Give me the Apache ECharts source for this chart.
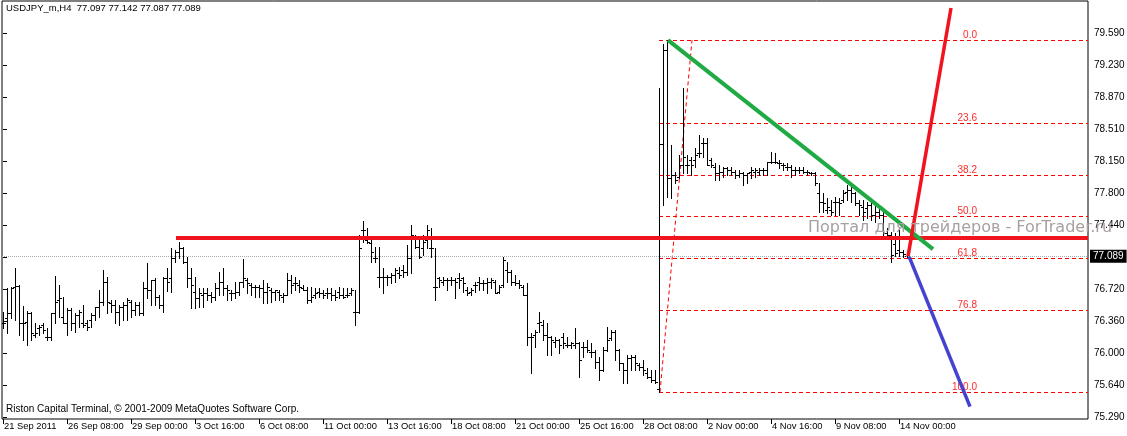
<!DOCTYPE html>
<html><head><meta charset="utf-8">
<script src="https://cdn.jsdelivr.net/npm/echarts@6/dist/echarts.min.js"></script>
<style>html,body{margin:0;padding:0;background:#fff}#c{width:1127px;height:436px}</style>
</head><body><div id="c"></div>
<script>
// ---- DATA (H4 bars, index = bar number) ----
const opens=[76.338,76.394,76.450,76.748,76.760,76.338,76.356,76.450,76.207,76.282,
76.319,76.188,76.188,76.450,76.599,76.412,76.338,76.487,76.338,76.431,
76.338,76.338,76.375,76.431,76.524,76.580,76.804,76.562,76.543,76.468,
76.524,76.543,76.580,76.487,76.543,76.450,76.730,76.711,76.823,76.636,
76.543,76.842,76.842,77.066,77.140,77.178,77.028,76.842,76.692,76.618,
76.655,76.674,76.655,76.636,76.730,76.804,76.730,76.674,76.674,76.692,
76.804,76.823,76.767,76.748,76.748,76.730,76.692,76.711,76.692,76.692,
76.636,76.655,76.823,76.786,76.767,76.730,76.711,76.599,76.655,76.692,
76.674,76.674,76.674,76.655,76.692,76.655,76.655,76.674,76.468,76.468,
77.383,77.271,77.234,77.066,76.860,76.860,76.860,76.860,76.879,76.898,
76.935,76.916,77.066,77.308,77.196,77.178,77.271,77.178,76.748,76.842,
76.804,76.823,76.823,76.823,76.842,76.842,76.711,76.692,76.767,76.804,
76.786,76.786,76.804,76.804,76.692,76.767,76.935,76.916,76.804,76.786,
76.748,76.655,76.188,76.207,76.338,76.319,76.207,76.188,76.132,76.151,
76.188,76.095,76.095,76.095,76.114,76.076,76.076,76.020,76.020,75.909,
75.815,76.039,76.170,76.244,76.039,75.890,75.815,75.946,75.965,75.871,
75.852,75.778,75.741,75.703,75.600,78.346,79.399,77.962,77.999,77.980,
78.111,78.111,78.167,78.167,78.242,78.354,78.354,78.167,78.092,78.018,
78.036,78.074,78.055,78.036,77.999,78.018,77.999,78.036,78.036,78.036,
78.055,78.055,78.149,78.149,78.130,78.111,78.092,78.092,78.055,78.055,
78.055,78.036,78.018,78.018,77.794,77.701,77.607,77.607,77.701,77.701,
77.719,77.812,77.831,77.794,77.682,77.645,77.629,77.663,77.551,77.585,
77.551,77.349,77.327,77.226,77.159,77.137,77.097];
const highs=[76.468,76.730,76.748,76.954,76.767,76.532,76.480,76.468,76.338,76.319,
76.338,76.282,76.450,76.868,76.767,76.636,76.506,76.506,76.450,76.487,
76.543,76.375,76.450,76.524,76.711,76.935,76.860,76.599,76.599,76.543,
76.580,76.618,76.599,76.580,76.580,76.804,77.017,76.823,76.842,76.655,
76.860,76.954,77.178,77.159,77.252,77.196,77.084,76.954,76.860,76.730,
76.730,76.730,76.692,76.786,76.916,76.954,76.767,76.711,76.804,76.804,
77.055,76.842,76.786,76.767,76.767,76.823,76.786,76.730,76.711,76.711,
76.674,76.898,76.879,76.860,76.823,76.767,76.748,76.748,76.730,76.730,
76.711,76.730,76.730,76.711,76.741,76.730,76.730,76.730,76.711,77.327,
77.484,77.402,77.290,77.196,77.196,76.954,76.879,76.898,76.954,76.972,
76.991,77.215,77.439,77.327,77.308,77.327,77.439,77.402,77.178,76.860,
76.860,76.842,76.860,76.842,76.898,76.860,76.748,76.730,76.804,76.860,
76.823,76.842,76.842,76.823,76.767,77.084,77.028,76.935,76.879,76.823,
76.767,76.786,76.226,76.263,76.468,76.375,76.338,76.200,76.188,76.160,
76.226,76.188,76.125,76.282,76.125,76.132,76.151,76.114,76.039,75.965,
76.076,76.300,76.263,76.260,76.050,75.900,75.983,75.983,75.983,75.890,
75.927,75.834,75.815,75.815,78.970,79.470,79.511,78.335,78.036,78.223,
78.970,78.223,78.205,78.298,78.447,78.410,78.410,78.186,78.130,78.111,
78.092,78.092,78.092,78.055,78.055,78.036,78.018,78.092,78.074,78.074,
78.074,78.149,78.260,78.242,78.167,78.130,78.130,78.111,78.092,78.092,
78.092,78.055,78.036,78.030,77.906,77.794,77.738,77.719,77.757,77.738,
77.831,77.887,77.869,77.810,77.719,77.719,77.697,77.719,77.663,77.652,
77.607,77.405,77.361,77.349,77.405,77.159,77.142];
const lows=[76.282,76.226,76.394,76.375,76.207,76.151,76.095,76.151,76.188,76.207,
76.226,76.151,76.151,76.338,76.412,76.338,76.207,76.263,76.244,76.300,
76.300,76.263,76.300,76.375,76.412,76.543,76.450,76.468,76.338,76.319,
76.375,76.375,76.412,76.431,76.431,76.431,76.618,76.543,76.543,76.506,
76.468,76.700,76.692,77.028,77.066,77.010,76.748,76.506,76.506,76.524,
76.524,76.599,76.580,76.599,76.655,76.655,76.599,76.599,76.618,76.655,
76.748,76.674,76.655,76.636,76.636,76.562,76.562,76.580,76.599,76.599,
76.580,76.655,76.674,76.711,76.692,76.711,76.562,76.580,76.618,76.636,
76.618,76.618,76.599,76.599,76.618,76.618,76.636,76.655,76.319,76.450,
77.252,77.234,77.028,77.028,76.748,76.674,76.767,76.786,76.804,76.842,
76.860,76.879,76.898,77.178,77.066,77.103,77.178,77.084,76.599,76.748,
76.767,76.711,76.767,76.618,76.730,76.692,76.655,76.655,76.692,76.711,
76.711,76.674,76.730,76.674,76.674,76.748,76.804,76.767,76.767,76.730,
76.655,76.095,75.778,76.076,76.244,76.151,75.983,75.983,76.076,76.002,
76.058,76.076,76.058,76.058,75.741,75.965,76.020,75.965,75.834,75.703,
75.800,76.030,76.151,75.927,75.815,75.666,75.666,75.815,75.815,75.815,
75.759,75.722,75.685,75.666,75.569,77.663,77.757,77.738,77.906,77.970,
78.018,78.018,77.999,78.092,78.205,78.205,78.111,78.092,77.943,77.943,
77.980,77.999,77.999,77.962,77.980,77.887,77.906,77.962,77.980,77.999,
77.999,77.999,78.130,78.130,78.074,78.055,78.055,77.980,77.999,78.018,
78.018,77.999,77.999,77.887,77.588,77.588,77.570,77.551,77.551,77.551,
77.701,77.719,77.701,77.663,77.551,77.495,77.517,77.495,77.473,77.517,
77.327,77.316,77.025,77.092,77.092,77.081,77.087];
const closes=[76.338,76.450,76.730,76.760,76.338,76.338,76.450,76.226,76.226,76.300,
76.263,76.181,76.450,76.580,76.618,76.338,76.487,76.338,76.431,76.468,
76.319,76.300,76.431,76.524,76.580,76.804,76.580,76.543,76.468,76.524,
76.543,76.599,76.487,76.543,76.450,76.730,76.711,76.823,76.636,76.543,
76.842,76.804,77.066,77.140,77.178,77.028,76.842,76.767,76.618,76.674,
76.674,76.655,76.636,76.730,76.804,76.730,76.711,76.674,76.692,76.804,
76.842,76.786,76.748,76.748,76.730,76.692,76.748,76.692,76.711,76.655,
76.655,76.823,76.767,76.786,76.748,76.711,76.599,76.636,76.674,76.674,
76.655,76.674,76.655,76.636,76.655,76.636,76.655,76.711,76.461,77.178,
77.383,77.252,77.140,77.066,76.860,76.860,76.860,76.879,76.935,76.879,
76.916,77.066,77.327,77.196,77.084,77.252,77.383,77.178,76.748,76.823,
76.823,76.823,76.823,76.804,76.823,76.786,76.674,76.711,76.767,76.786,
76.786,76.804,76.823,76.674,76.748,77.047,76.916,76.804,76.786,76.767,
76.655,76.188,76.188,76.244,76.356,76.207,76.188,76.151,76.151,76.095,
76.114,76.095,76.114,76.114,75.927,76.076,76.039,76.020,75.909,75.815,
76.039,76.151,76.244,76.039,75.890,75.815,75.946,75.965,75.890,75.852,
75.815,75.741,75.703,75.685,78.346,79.399,77.962,77.999,77.943,78.111,
78.205,78.111,78.111,78.223,78.242,78.354,78.111,78.111,78.018,78.036,
78.074,78.055,78.036,77.999,78.018,77.999,78.018,78.055,78.055,78.055,
78.055,78.149,78.149,78.149,78.130,78.111,78.092,78.055,78.055,78.055,
78.036,78.036,78.018,77.906,77.701,77.682,77.645,77.588,77.701,77.682,
77.794,77.831,77.794,77.682,77.663,77.588,77.663,77.551,77.585,77.551,
77.349,77.327,77.103,77.126,77.137,77.114,77.089];

const timeTickBars=[0,16,32,48,64,80,96,112,128,144,160,176,192,208,224];
const timeTickLabels=["21 Sep 2011","26 Sep 08:00","29 Sep 00:00","3 Oct 16:00","6 Oct 08:00","11 Oct 00:00","13 Oct 16:00","18 Oct 08:00","21 Oct 00:00","25 Oct 16:00","28 Oct 08:00","2 Nov 00:00","4 Nov 16:00","9 Nov 08:00","14 Nov 00:00"];
const priceTicks=[75.29,75.648,76.007,76.365,76.723,77.082,77.44,77.798,78.157,78.515,78.873,79.232,79.59];
const priceTickLabels=["75.290","75.640","76.000","76.360","76.720","","77.440","77.800","78.150","78.510","78.870","79.230","79.590"];
const lastPrice=77.089;
const fibLevels=["0.0","23.6","38.2","50.0","61.8","76.8","100.0"];
const fibPrices=[79.510,78.580,78.005,77.540,77.075,76.483,75.569];
const fibStartBar=164, fibLabelBar=243.5;
const fibDiagonal=[[164.25,75.569],[172.25,79.510]];
const resistanceLine=[[43.25,77.293],[271.25,77.293]];
const greenTrend=[[166.25,79.510],[232.5,77.170]];
const redRay=[[226.25,77.089],[237,79.870]];
const blueRay=[[226.5,77.089],[241.75,75.406]];
const xMin=-0.25, xMax=271.25, yMin=75.2676, yMax=79.948;

const bars=opens.map((o,i)=>[i,o,highs[i],lows[i],closes[i]]);
const FONT='"Liberation Sans", Arial, sans-serif';

const chart=echarts.init(document.getElementById('c'),null,{renderer:'canvas'});
chart.setOption({
  animation:false,
  backgroundColor:'#ffffff',
  grid:{left:2,right:39,top:1,bottom:17,show:true,borderColor:'#000',borderWidth:1,backgroundColor:'transparent',outerBoundsMode:'none',containLabel:false},
  xAxis:{type:'value',min:xMin,max:xMax,
    axisLine:{show:false},
    splitLine:{show:false},
    axisTick:{show:true,customValues:timeTickBars,length:5,lineStyle:{color:'#000'}},
    axisLabel:{customValues:timeTickBars,align:'left',margin:3,padding:[0,0,0,1],color:'#000',fontSize:9.4,fontFamily:FONT,
      formatter:v=>{const k=timeTickBars.findIndex(t=>Math.abs(t-v)<1e-6);return k>=0?timeTickLabels[k]:'';}}},
  yAxis:{type:'value',position:'right',min:yMin,max:yMax,
    axisLine:{show:false},
    splitLine:{show:false},
    axisTick:{show:true,customValues:priceTicks,length:4,lineStyle:{color:'#000'}},
    axisLabel:{customValues:priceTicks,margin:6,color:'#000',fontSize:10,fontFamily:FONT,
      formatter:v=>{const k=priceTicks.findIndex(t=>Math.abs(t-v)<1e-6);return k>=0?priceTickLabels[k]:'';}}},
  series:[
    {type:'line',name:'price',data:[],symbol:'none',silent:true,z:1,
      markLine:{silent:true,symbol:'none',animation:false,
        lineStyle:{color:'#a3adb5',type:'dotted',width:1},
        label:{show:true,position:'end',distance:2,formatter:'77.089',backgroundColor:'#000',color:'#fff',padding:[2,3,1,3],fontSize:10,fontFamily:FONT},
        data:[{yAxis:lastPrice}]}},
    {type:'custom',name:'fib',silent:true,z:2,clip:true,
      data:fibPrices.map((p,k)=>[fibStartBar,p,k]),encode:{x:0,y:1},
      renderItem:(params,api)=>{
        const p=api.value(1),k=api.value(2);
        const a=api.coord([fibStartBar,p]),b=api.coord([xMax,p]),t=api.coord([fibLabelBar,p]);
        const y=Math.round(a[1])+0.5;
        return {type:'group',children:[
          {type:'line',shape:{x1:Math.round(a[0]),y1:y,x2:b[0],y2:y},style:{stroke:'#ff0000',lineWidth:1,lineDash:[4,3]}},
          {type:'text',x:t[0],y:y,style:{text:fibLevels[k],fill:'#ff2a2a',font:'10px '+FONT,align:'right',verticalAlign:'bottom'}}
        ]};
      }},
    {type:'line',name:'fibDiag',data:fibDiagonal,symbol:'none',silent:true,z:2,lineStyle:{color:'#ff0000',width:1,type:[4,3]}},
    {type:'custom',name:'bars',silent:true,z:3,clip:true,
      data:bars,encode:{x:0,y:[1,2,3,4]},
      renderItem:(params,api)=>{
        const i=api.value(0),o=api.value(1),h=api.value(2),l=api.value(3),c=api.value(4);
        const pH=api.coord([i,h]),pL=api.coord([i,l]),pO=api.coord([i,o]),pC=api.coord([i,c]);
        const px=Math.round(pH[0]);
        const x=px+0.5;
        const yo=Math.round(pO[1])+0.5,yc=Math.round(pC[1])+0.5;
        const st={stroke:'#000',lineWidth:1};
        return {type:'group',children:[
          {type:'line',shape:{x1:x,y1:Math.round(pH[1]),x2:x,y2:Math.round(pL[1])+1},style:st},
          {type:'line',shape:{x1:px-2,y1:yo,x2:px,y2:yo},style:st},
          {type:'line',shape:{x1:px+1,y1:yc,x2:px+3,y2:yc},style:st}
        ]};
      }},
    {type:'line',name:'resistance',data:resistanceLine,symbol:'none',silent:true,z:4,lineStyle:{color:'#f0141e',width:4}},
    {type:'line',name:'trend',data:greenTrend,symbol:'none',silent:true,z:4,lineStyle:{color:'#1faa44',width:4}},
    {type:'line',name:'up',data:redRay,symbol:'none',silent:true,z:4,lineStyle:{color:'#f0141e',width:3.5}},
    {type:'line',name:'down',data:blueRay,symbol:'none',silent:true,z:4,lineStyle:{color:'#4343cf',width:3.5}}
  ],
  graphic:[
    {type:'text',left:6,top:3,z:20,style:{text:'USDJPY_m,H4  77.097 77.142 77.087 77.089',fill:'#000',font:'9.5px '+FONT}},
    {type:'text',left:6,top:404,z:20,style:{text:'Riston Capital Terminal, © 2001-2009 MetaQuotes Software Corp.',fill:'#000',font:'10px '+FONT}},
    {type:'text',left:808,top:220,z:20,style:{text:'Портал для трейдеров - ForTrader.ru',fill:'#a9a1a1',font:'16px "DejaVu Sans", sans-serif'}}
  ]
});
</script></body></html>
